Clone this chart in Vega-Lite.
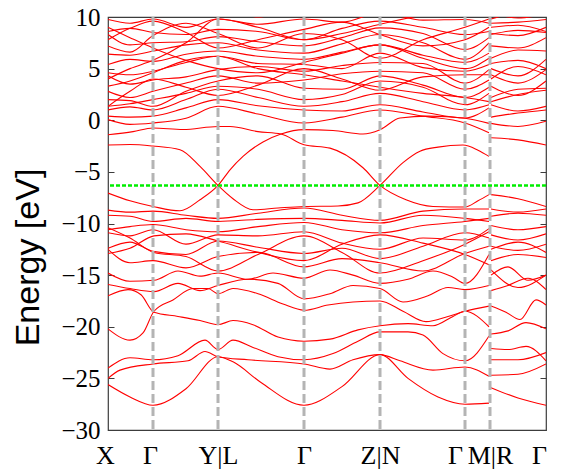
{
"$schema": "https://vega.github.io/schema/vega-lite/v6.json",
"width": 438, "height": 413,
"autosize": "none",
"padding": {"left": 108, "top": 17, "right": 19, "bottom": 40},
"background": "white",
"config": {"view": {"stroke": "#3c3c3c", "strokeWidth": 1.2}, "axis": {"grid": false, "domain": false}},
"datasets": {
"kpts": [{"k":45},{"k":110},{"k":196},{"k":272},{"k":357},{"k":382}],
"ef": [{"e":-6.31}],
"bands": [
{"b":"b1","k":0,"e":-25.6},{"b":"b1","k":22,"e":-26.8},{"b":"b1","k":45,"e":-27.6},{"b":"b1","k":78,"e":-26.0},{"b":"b1","k":110,"e":-22.9},{"b":"b1","k":125,"e":-23.4},{"b":"b1","k":153,"e":-25.4},{"b":"b1","k":196,"e":-27.6},{"b":"b1","k":234,"e":-25.8},{"b":"b1","k":272,"e":-22.7},{"b":"b1","k":300,"e":-25.0},{"b":"b1","k":330,"e":-26.8},{"b":"b1","k":357,"e":-27.5},{"b":"b1","k":381,"e":-27.4},
{"b":"b1t","k":383,"e":-25.9},{"b":"b1t","k":410,"e":-26.9},{"b":"b1t","k":438,"e":-27.6},
{"b":"b2","k":0,"e":-25.0},{"b":"b2","k":12,"e":-24.2},{"b":"b2","k":45,"e":-23.6},{"b":"b2","k":80,"e":-23.3},{"b":"b2","k":97,"e":-22.4},{"b":"b2","k":110,"e":-22.9},{"b":"b2","k":140,"e":-23.2},{"b":"b2","k":196,"e":-23.6},{"b":"b2","k":222,"e":-24.1},{"b":"b2","k":245,"e":-23.2},{"b":"b2","k":272,"e":-22.7},{"b":"b2","k":292,"e":-23.3},{"b":"b2","k":325,"e":-24.2},{"b":"b2","k":357,"e":-23.9},{"b":"b2","k":381,"e":-24.8},
{"b":"b2t","k":383,"e":-24.7},{"b":"b2t","k":410,"e":-24.6},{"b":"b2t","k":438,"e":-23.6},
{"b":"b3","k":0,"e":-24.0},{"b":"b3","k":22,"e":-23.0},{"b":"b3","k":45,"e":-23.2},{"b":"b3","k":70,"e":-22.8},{"b":"b3","k":97,"e":-21.3},{"b":"b3","k":110,"e":-22.2},{"b":"b3","k":125,"e":-21.3},{"b":"b3","k":145,"e":-22.0},{"b":"b3","k":170,"e":-22.9},{"b":"b3","k":196,"e":-23.2},{"b":"b3","k":225,"e":-22.6},{"b":"b3","k":250,"e":-21.4},{"b":"b3","k":272,"e":-20.5},{"b":"b3","k":300,"e":-20.5},{"b":"b3","k":315,"e":-20.8},{"b":"b3","k":335,"e":-22.6},{"b":"b3","k":357,"e":-23.3},{"b":"b3","k":381,"e":-20.9},
{"b":"b3t","k":383,"e":-22.1},{"b":"b3t","k":400,"e":-22.2},{"b":"b3t","k":418,"e":-21.9},{"b":"b3t","k":438,"e":-23.3},
{"b":"b3u","k":383,"e":-23.2},{"b":"b3u","k":410,"e":-23.2},{"b":"b3u","k":438,"e":-22.5},
{"b":"b4","k":0,"e":-20.2},{"b":"b4","k":22,"e":-21.3},{"b":"b4","k":35,"e":-20.6},{"b":"b4","k":46,"e":-18.5},{"b":"b4","k":65,"e":-17.4},{"b":"b4","k":85,"e":-16.3},{"b":"b4","k":100,"e":-16.3},{"b":"b4","k":110,"e":-16.8},{"b":"b4","k":125,"e":-16.3},{"b":"b4","k":150,"e":-16.8},{"b":"b4","k":175,"e":-17.8},{"b":"b4","k":196,"e":-18.4},{"b":"b4","k":220,"e":-17.9},{"b":"b4","k":245,"e":-17.6},{"b":"b4","k":272,"e":-17.5},{"b":"b4","k":295,"e":-18.5},{"b":"b4","k":318,"e":-19.5},{"b":"b4","k":340,"e":-19.0},{"b":"b4","k":357,"e":-18.5},{"b":"b4","k":381,"e":-18.0},
{"b":"b4t","k":383,"e":-18.0},{"b":"b4t","k":398,"e":-18.6},{"b":"b4t","k":412,"e":-19.3},{"b":"b4t","k":428,"e":-17.4},{"b":"b4t","k":438,"e":-17.9},
{"b":"b5","k":0,"e":-17.0},{"b":"b5","k":20,"e":-16.4},{"b":"b5","k":33,"e":-16.9},{"b":"b5","k":46,"e":-18.6},{"b":"b5","k":70,"e":-19.0},{"b":"b5","k":92,"e":-19.4},{"b":"b5","k":110,"e":-19.8},{"b":"b5","k":125,"e":-19.4},{"b":"b5","k":145,"e":-19.8},{"b":"b5","k":170,"e":-21.0},{"b":"b5","k":196,"e":-21.4},{"b":"b5","k":222,"e":-21.2},{"b":"b5","k":250,"e":-20.3},{"b":"b5","k":272,"e":-19.9},{"b":"b5","k":300,"e":-19.7},{"b":"b5","k":325,"e":-19.9},{"b":"b5","k":345,"e":-19.0},{"b":"b5","k":357,"e":-18.5},{"b":"b5","k":381,"e":-20.0},
{"b":"b5t","k":383,"e":-20.7},{"b":"b5t","k":400,"e":-20.4},{"b":"b5t","k":418,"e":-19.6},{"b":"b5t","k":438,"e":-20.2},
{"b":"b6","k":0,"e":-15.9},{"b":"b6","k":22,"e":-16.3},{"b":"b6","k":46,"e":-16.6},{"b":"b6","k":70,"e":-15.8},{"b":"b6","k":92,"e":-16.5},{"b":"b6","k":110,"e":-16.0},{"b":"b6","k":140,"e":-15.4},{"b":"b6","k":170,"e":-15.8},{"b":"b6","k":196,"e":-17.3},{"b":"b6","k":222,"e":-16.8},{"b":"b6","k":245,"e":-16.0},{"b":"b6","k":272,"e":-16.3},{"b":"b6","k":295,"e":-17.6},{"b":"b6","k":320,"e":-17.0},{"b":"b6","k":340,"e":-16.2},{"b":"b6","k":357,"e":-16.4},{"b":"b6","k":381,"e":-16.0},
{"b":"b6t","k":383,"e":-16.5},{"b":"b6t","k":400,"e":-16.0},{"b":"b6t","k":420,"e":-15.3},{"b":"b6t","k":438,"e":-16.4},
{"b":"b7","k":0,"e":-14.8},{"b":"b7","k":22,"e":-15.6},{"b":"b7","k":46,"e":-15.5},{"b":"b7","k":70,"e":-14.6},{"b":"b7","k":92,"e":-15.1},{"b":"b7","k":110,"e":-14.8},{"b":"b7","k":140,"e":-15.4},{"b":"b7","k":165,"e":-14.8},{"b":"b7","k":196,"e":-15.3},{"b":"b7","k":222,"e":-14.5},{"b":"b7","k":245,"e":-15.0},{"b":"b7","k":272,"e":-15.8},{"b":"b7","k":300,"e":-15.4},{"b":"b7","k":325,"e":-14.6},{"b":"b7","k":345,"e":-15.2},{"b":"b7","k":357,"e":-15.8},{"b":"b7","k":381,"e":-13.0},
{"b":"b7t","k":383,"e":-15.0},{"b":"b7t","k":400,"e":-14.2},{"b":"b7t","k":420,"e":-15.5},{"b":"b7t","k":438,"e":-15.0},
{"b":"b8","k":0,"e":-12.5},{"b":"b8","k":22,"e":-13.8},{"b":"b8","k":45,"e":-13.6},{"b":"b8","k":78,"e":-14.3},{"b":"b8","k":110,"e":-13.2},{"b":"b8","k":150,"e":-12.8},{"b":"b8","k":196,"e":-14.2},{"b":"b8","k":234,"e":-13.4},{"b":"b8","k":272,"e":-13.8},{"b":"b8","k":315,"e":-14.6},{"b":"b8","k":357,"e":-12.9},{"b":"b8","k":381,"e":-12.2},
{"b":"b8t","k":383,"e":-12.2},{"b":"b8t","k":410,"e":-12.6},{"b":"b8t","k":438,"e":-12.0},
{"b":"b9","k":0,"e":-12.4},{"b":"b9","k":22,"e":-11.8},{"b":"b9","k":45,"e":-12.7},{"b":"b9","k":78,"e":-13.0},{"b":"b9","k":110,"e":-11.7},{"b":"b9","k":150,"e":-12.3},{"b":"b9","k":196,"e":-12.9},{"b":"b9","k":234,"e":-12.4},{"b":"b9","k":272,"e":-13.4},{"b":"b9","k":315,"e":-12.2},{"b":"b9","k":357,"e":-10.9},{"b":"b9","k":381,"e":-11.4},
{"b":"b9t","k":383,"e":-13.6},{"b":"b9t","k":410,"e":-13.0},{"b":"b9t","k":438,"e":-13.3},
{"b":"b10","k":0,"e":-10.9},{"b":"b10","k":22,"e":-11.2},{"b":"b10","k":45,"e":-10.6},{"b":"b10","k":78,"e":-12.0},{"b":"b10","k":110,"e":-11.1},{"b":"b10","k":150,"e":-11.2},{"b":"b10","k":196,"e":-10.8},{"b":"b10","k":234,"e":-11.9},{"b":"b10","k":272,"e":-12.5},{"b":"b10","k":315,"e":-11.4},{"b":"b10","k":357,"e":-11.6},{"b":"b10","k":381,"e":-10.5},
{"b":"b10t","k":383,"e":-11.1},{"b":"b10t","k":410,"e":-11.6},{"b":"b10t","k":438,"e":-11.0},
{"b":"b11","k":0,"e":-10.6},{"b":"b11","k":22,"e":-10.3},{"b":"b11","k":45,"e":-10.1},{"b":"b11","k":78,"e":-10.6},{"b":"b11","k":110,"e":-10.8},{"b":"b11","k":150,"e":-10.3},{"b":"b11","k":196,"e":-9.9},{"b":"b11","k":234,"e":-10.6},{"b":"b11","k":272,"e":-10.9},{"b":"b11","k":315,"e":-10.2},{"b":"b11","k":357,"e":-9.8},{"b":"b11","k":381,"e":-9.5},
{"b":"b11t","k":383,"e":-10.2},{"b":"b11t","k":410,"e":-10.6},{"b":"b11t","k":438,"e":-10.3},
{"b":"b12","k":0,"e":-9.2},{"b":"b12","k":22,"e":-9.3},{"b":"b12","k":45,"e":-9.8},{"b":"b12","k":78,"e":-9.5},{"b":"b12","k":110,"e":-9.8},{"b":"b12","k":150,"e":-9.6},{"b":"b12","k":196,"e":-9.5},{"b":"b12","k":234,"e":-9.7},{"b":"b12","k":272,"e":-9.95},{"b":"b12","k":315,"e":-9.2},{"b":"b12","k":357,"e":-9.5},{"b":"b12","k":381,"e":-9.8},
{"b":"b12t","k":383,"e":-9.3},{"b":"b12t","k":410,"e":-9.0},{"b":"b12t","k":438,"e":-9.2},
{"b":"b13","k":0,"e":-8.7},{"b":"b13","k":22,"e":-8.9},{"b":"b13","k":45,"e":-8.8},{"b":"b13","k":78,"e":-9.2},{"b":"b13","k":110,"e":-9.5},{"b":"b13","k":150,"e":-9.0},{"b":"b13","k":196,"e":-8.5},{"b":"b13","k":234,"e":-9.2},{"b":"b13","k":272,"e":-9.7},{"b":"b13","k":315,"e":-8.8},{"b":"b13","k":357,"e":-8.6},{"b":"b13","k":381,"e":-8.6},
{"b":"b13t","k":383,"e":-8.6},{"b":"b13t","k":410,"e":-8.9},{"b":"b13t","k":438,"e":-8.6},
{"b":"v1","k":0,"e":-10.4},{"b":"v1","k":22,"e":-11.4},{"b":"v1","k":46,"e":-12.8},{"b":"v1","k":78,"e":-13.2},{"b":"v1","k":110,"e":-14.6},{"b":"v1","k":150,"e":-13.0},{"b":"v1","k":196,"e":-11.2},{"b":"v1","k":234,"e":-12.8},{"b":"v1","k":272,"e":-14.8},{"b":"v1","k":315,"e":-13.6},{"b":"v1","k":357,"e":-12.0},{"b":"v1","k":381,"e":-10.8},
{"b":"v1t","k":383,"e":-12.5},{"b":"v1t","k":410,"e":-11.8},{"b":"v1t","k":438,"e":-12.8},
{"b":"v2","k":0,"e":-12.9},{"b":"v2","k":22,"e":-12.4},{"b":"v2","k":46,"e":-11.2},{"b":"v2","k":78,"e":-11.0},{"b":"v2","k":110,"e":-11.7},{"b":"v2","k":150,"e":-12.8},{"b":"v2","k":196,"e":-13.6},{"b":"v2","k":234,"e":-12.0},{"b":"v2","k":272,"e":-11.1},{"b":"v2","k":315,"e":-11.9},{"b":"v2","k":357,"e":-13.0},{"b":"v2","k":381,"e":-14.0},
{"b":"v2t","k":383,"e":-14.5},{"b":"v2t","k":410,"e":-16.2},{"b":"v2t","k":438,"e":-15.0},
{"b":"lA","k":0,"e":-2.4},{"b":"lA","k":22,"e":-2.35},{"b":"lA","k":45,"e":-2.5},{"b":"lA","k":72,"e":-2.85},{"b":"lA","k":92,"e":-4.47},{"b":"lA","k":110,"e":-6.31},{"b":"lA","k":125,"e":-7.6},{"b":"lA","k":145,"e":-8.67},{"b":"lA","k":170,"e":-8.5},{"b":"lA","k":196,"e":-8.35},{"b":"lA","k":230,"e":-8.3},{"b":"lA","k":250,"e":-8.0},{"b":"lA","k":272,"e":-6.31},{"b":"lA","k":295,"e":-4.1},{"b":"lA","k":312,"e":-3.0},{"b":"lA","k":330,"e":-2.6},{"b":"lA","k":355,"e":-2.4},{"b":"lA","k":370,"e":-2.9},{"b":"lA","k":381,"e":-3.5},
{"b":"lAt","k":383,"e":-1.7},{"b":"lAt","k":410,"e":-1.9},{"b":"lAt","k":438,"e":-2.4},
{"b":"lB","k":0,"e":-7.05},{"b":"lB","k":22,"e":-7.8},{"b":"lB","k":45,"e":-8.35},{"b":"lB","k":72,"e":-8.77},{"b":"lB","k":92,"e":-7.7},{"b":"lB","k":110,"e":-6.31},{"b":"lB","k":122,"e":-4.8},{"b":"lB","k":135,"e":-3.5},{"b":"lB","k":155,"e":-2.1},{"b":"lB","k":173,"e":-1.33},{"b":"lB","k":196,"e":-0.91},{"b":"lB","k":225,"e":-1.0},{"b":"lB","k":255,"e":-1.33},{"b":"lB","k":272,"e":-0.91},{"b":"lB","k":292,"e":0.22},{"b":"lB","k":320,"e":0.4},{"b":"lB","k":357,"e":0.2},{"b":"lB","k":381,"e":-0.3},
{"b":"lC","k":0,"e":-1.4},{"b":"lC","k":25,"e":-1.1},{"b":"lC","k":45,"e":-0.75},{"b":"lC","k":75,"e":-0.9},{"b":"lC","k":110,"e":-0.6},{"b":"lC","k":122,"e":-0.6},{"b":"lC","k":150,"e":-1.1},{"b":"lC","k":173,"e":-1.33},{"b":"lC","k":196,"e":-2.37},{"b":"lC","k":222,"e":-2.7},{"b":"lC","k":255,"e":-4.6},{"b":"lC","k":272,"e":-6.31},{"b":"lC","k":298,"e":-7.7},{"b":"lC","k":325,"e":-8.35},{"b":"lC","k":357,"e":-8.4},{"b":"lC","k":370,"e":-7.8},{"b":"lC","k":381,"e":-7.2},
{"b":"lCt","k":383,"e":-7.2},{"b":"lCt","k":410,"e":-7.6},{"b":"lCt","k":438,"e":-8.35},
{"b":"c1","k":0,"e":0.06},{"b":"c1","k":22,"e":-0.4},{"b":"c1","k":45,"e":-0.26},{"b":"c1","k":78,"e":0.2},{"b":"c1","k":110,"e":1.35},{"b":"c1","k":150,"e":0.6},{"b":"c1","k":196,"e":-0.26},{"b":"c1","k":234,"e":0.3},{"b":"c1","k":272,"e":1.0},{"b":"c1","k":315,"e":0.4},{"b":"c1","k":357,"e":-0.26},{"b":"c1","k":381,"e":-1.2},
{"b":"c1t","k":383,"e":-0.3},{"b":"c1t","k":410,"e":-0.6},{"b":"c1t","k":438,"e":-0.1},
{"b":"c2","k":0,"e":0.4},{"b":"c2","k":22,"e":0.3},{"b":"c2","k":45,"e":0.4},{"b":"c2","k":78,"e":1.2},{"b":"c2","k":110,"e":2.0},{"b":"c2","k":150,"e":1.4},{"b":"c2","k":196,"e":1.0},{"b":"c2","k":234,"e":0.9},{"b":"c2","k":272,"e":1.5},{"b":"c2","k":315,"e":0.8},{"b":"c2","k":357,"e":0.22},{"b":"c2","k":381,"e":1.2},
{"b":"c2t","k":383,"e":0.3},{"b":"c2t","k":410,"e":0.7},{"b":"c2t","k":438,"e":1.0},
{"b":"c3","k":0,"e":1.0},{"b":"c3","k":22,"e":1.3},{"b":"c3","k":45,"e":1.0},{"b":"c3","k":78,"e":2.0},{"b":"c3","k":110,"e":3.0},{"b":"c3","k":150,"e":2.2},{"b":"c3","k":196,"e":1.35},{"b":"c3","k":234,"e":1.8},{"b":"c3","k":272,"e":2.6},{"b":"c3","k":315,"e":1.8},{"b":"c3","k":357,"e":1.0},{"b":"c3","k":381,"e":1.5},
{"b":"c3t","k":383,"e":1.5},{"b":"c3t","k":410,"e":0.9},{"b":"c3t","k":438,"e":1.35},
{"b":"c4","k":0,"e":1.35},{"b":"c4","k":22,"e":1.6},{"b":"c4","k":45,"e":2.0},{"b":"c4","k":78,"e":2.6},{"b":"c4","k":110,"e":3.3},{"b":"c4","k":150,"e":3.0},{"b":"c4","k":196,"e":2.0},{"b":"c4","k":234,"e":2.5},{"b":"c4","k":272,"e":3.8},{"b":"c4","k":315,"e":3.2},{"b":"c4","k":357,"e":1.5},{"b":"c4","k":381,"e":2.6},
{"b":"c4t","k":383,"e":2.2},{"b":"c4t","k":410,"e":3.0},{"b":"c4t","k":438,"e":3.1},
{"b":"c5","k":0,"e":2.0},{"b":"c5","k":22,"e":1.9},{"b":"c5","k":45,"e":1.35},{"b":"c5","k":78,"e":2.8},{"b":"c5","k":110,"e":3.8},{"b":"c5","k":150,"e":4.3},{"b":"c5","k":196,"e":3.1},{"b":"c5","k":234,"e":3.0},{"b":"c5","k":272,"e":4.3},{"b":"c5","k":315,"e":3.4},{"b":"c5","k":357,"e":2.2},{"b":"c5","k":381,"e":3.2},
{"b":"c5t","k":383,"e":3.3},{"b":"c5t","k":410,"e":2.4},{"b":"c5t","k":438,"e":3.8},
{"b":"c6","k":0,"e":2.8},{"b":"c6","k":22,"e":2.2},{"b":"c6","k":45,"e":2.8},{"b":"c6","k":78,"e":3.6},{"b":"c6","k":110,"e":4.3},{"b":"c6","k":150,"e":3.6},{"b":"c6","k":196,"e":3.9},{"b":"c6","k":234,"e":4.5},{"b":"c6","k":272,"e":4.75},{"b":"c6","k":315,"e":4.6},{"b":"c6","k":357,"e":3.0},{"b":"c6","k":381,"e":3.9},
{"b":"c6t","k":383,"e":4.4},{"b":"c6t","k":410,"e":3.6},{"b":"c6t","k":438,"e":4.9},
{"b":"c7","k":0,"e":4.3},{"b":"c7","k":22,"e":3.5},{"b":"c7","k":45,"e":3.9},{"b":"c7","k":78,"e":4.2},{"b":"c7","k":110,"e":4.9},{"b":"c7","k":150,"e":5.2},{"b":"c7","k":196,"e":4.75},{"b":"c7","k":234,"e":5.3},{"b":"c7","k":272,"e":5.6},{"b":"c7","k":315,"e":5.5},{"b":"c7","k":357,"e":3.6},{"b":"c7","k":381,"e":4.9},
{"b":"c7t","k":383,"e":5.0},{"b":"c7t","k":410,"e":4.3},{"b":"c7t","k":438,"e":5.9},
{"b":"c8","k":0,"e":4.6},{"b":"c8","k":22,"e":4.4},{"b":"c8","k":45,"e":4.75},{"b":"c8","k":78,"e":5.6},{"b":"c8","k":110,"e":6.2},{"b":"c8","k":150,"e":5.5},{"b":"c8","k":196,"e":5.4},{"b":"c8","k":234,"e":5.0},{"b":"c8","k":272,"e":6.5},{"b":"c8","k":315,"e":5.1},{"b":"c8","k":357,"e":4.75},{"b":"c8","k":381,"e":5.4},
{"b":"c8t","k":383,"e":6.0},{"b":"c8t","k":410,"e":6.8},{"b":"c8t","k":438,"e":6.7},
{"b":"c9","k":0,"e":5.4},{"b":"c9","k":22,"e":5.9},{"b":"c9","k":45,"e":5.7},{"b":"c9","k":78,"e":6.4},{"b":"c9","k":110,"e":6.7},{"b":"c9","k":150,"e":6.2},{"b":"c9","k":196,"e":5.9},{"b":"c9","k":234,"e":6.6},{"b":"c9","k":272,"e":7.3},{"b":"c9","k":315,"e":6.3},{"b":"c9","k":357,"e":5.6},{"b":"c9","k":381,"e":6.5},
{"b":"c9t","k":383,"e":7.2},{"b":"c9t","k":410,"e":7.0},{"b":"c9t","k":438,"e":8.0},
{"b":"c10","k":0,"e":6.4},{"b":"c10","k":22,"e":6.3},{"b":"c10","k":45,"e":6.7},{"b":"c10","k":78,"e":7.3},{"b":"c10","k":110,"e":7.5},{"b":"c10","k":150,"e":6.8},{"b":"c10","k":196,"e":6.5},{"b":"c10","k":234,"e":7.4},{"b":"c10","k":272,"e":8.3},{"b":"c10","k":315,"e":7.5},{"b":"c10","k":357,"e":5.9},{"b":"c10","k":381,"e":7.5},
{"b":"c10t","k":383,"e":8.4},{"b":"c10t","k":410,"e":8.2},{"b":"c10t","k":438,"e":9.0},
{"b":"c11","k":0,"e":8.3},{"b":"c11","k":22,"e":7.3},{"b":"c11","k":45,"e":7.5},{"b":"c11","k":78,"e":7.6},{"b":"c11","k":110,"e":8.1},{"b":"c11","k":150,"e":7.6},{"b":"c11","k":196,"e":7.2},{"b":"c11","k":234,"e":8.0},{"b":"c11","k":272,"e":8.95},{"b":"c11","k":315,"e":8.4},{"b":"c11","k":357,"e":6.85},{"b":"c11","k":381,"e":8.0},
{"b":"c11t","k":383,"e":9.4},{"b":"c11t","k":410,"e":9.5},{"b":"c11t","k":438,"e":9.76},
{"b":"c12","k":0,"e":8.6},{"b":"c12","k":22,"e":8.9},{"b":"c12","k":45,"e":8.5},{"b":"c12","k":78,"e":8.3},{"b":"c12","k":110,"e":8.8},{"b":"c12","k":150,"e":8.6},{"b":"c12","k":196,"e":7.8},{"b":"c12","k":234,"e":8.9},{"b":"c12","k":272,"e":9.6},{"b":"c12","k":315,"e":9.0},{"b":"c12","k":357,"e":8.3},{"b":"c12","k":381,"e":8.6},
{"b":"c12t","k":383,"e":10.5},{"b":"c12t","k":410,"e":10.6},{"b":"c12t","k":438,"e":10.8},
{"b":"c13","k":0,"e":9.76},{"b":"c13","k":22,"e":9.4},{"b":"c13","k":45,"e":9.8},{"b":"c13","k":78,"e":9.0},{"b":"c13","k":110,"e":9.8},{"b":"c13","k":150,"e":9.3},{"b":"c13","k":196,"e":9.8},{"b":"c13","k":234,"e":9.5},{"b":"c13","k":272,"e":10.4},{"b":"c13","k":315,"e":9.7},{"b":"c13","k":357,"e":9.76},{"b":"c13","k":381,"e":9.4},
{"b":"c13t","k":383,"e":10.4},{"b":"c13t","k":410,"e":9.9},{"b":"c13t","k":438,"e":10.3},
{"b":"c14","k":0,"e":10.4},{"b":"c14","k":22,"e":10.6},{"b":"c14","k":45,"e":10.8},{"b":"c14","k":78,"e":10.2},{"b":"c14","k":110,"e":11.0},{"b":"c14","k":150,"e":10.0},{"b":"c14","k":196,"e":10.9},{"b":"c14","k":234,"e":10.3},{"b":"c14","k":272,"e":11.2},{"b":"c14","k":315,"e":10.2},{"b":"c14","k":357,"e":11.0},{"b":"c14","k":381,"e":12.0},
{"b":"x1","k":0,"e":4.0},{"b":"x1","k":22,"e":5.0},{"b":"x1","k":45,"e":5.8},{"b":"x1","k":78,"e":7.5},{"b":"x1","k":110,"e":9.8},{"b":"x1","k":150,"e":9.0},{"b":"x1","k":196,"e":7.8},{"b":"x1","k":234,"e":8.4},{"b":"x1","k":272,"e":9.3},{"b":"x1","k":315,"e":10.2},{"b":"x1","k":357,"e":11.0},{"b":"x1","k":381,"e":11.0},
{"b":"x1t","k":383,"e":9.8},{"b":"x1t","k":410,"e":10.5},{"b":"x1t","k":438,"e":11.0},
{"b":"x2","k":0,"e":9.0},{"b":"x2","k":22,"e":8.0},{"b":"x2","k":45,"e":7.0},{"b":"x2","k":78,"e":5.8},{"b":"x2","k":110,"e":5.0},{"b":"x2","k":150,"e":4.6},{"b":"x2","k":196,"e":5.6},{"b":"x2","k":234,"e":6.5},{"b":"x2","k":272,"e":7.3},{"b":"x2","k":315,"e":6.0},{"b":"x2","k":357,"e":5.0},{"b":"x2","k":381,"e":6.0},
{"b":"x2t","k":383,"e":5.5},{"b":"x2t","k":410,"e":5.8},{"b":"x2t","k":438,"e":5.0},
{"b":"x3","k":0,"e":3.3},{"b":"x3","k":22,"e":3.8},{"b":"x3","k":45,"e":4.6},{"b":"x3","k":78,"e":5.8},{"b":"x3","k":110,"e":6.2},{"b":"x3","k":150,"e":5.0},{"b":"x3","k":196,"e":4.4},{"b":"x3","k":234,"e":3.8},{"b":"x3","k":272,"e":3.2},{"b":"x3","k":315,"e":2.6},{"b":"x3","k":357,"e":2.2},{"b":"x3","k":381,"e":1.8},
{"b":"x3t","k":383,"e":1.8},{"b":"x3t","k":410,"e":2.5},{"b":"x3t","k":438,"e":2.9},
{"b":"x4","k":0,"e":7.8},{"b":"x4","k":22,"e":8.9},{"b":"x4","k":45,"e":9.6},{"b":"x4","k":78,"e":8.5},{"b":"x4","k":110,"e":7.0},{"b":"x4","k":150,"e":7.8},{"b":"x4","k":196,"e":8.8},{"b":"x4","k":234,"e":9.5},{"b":"x4","k":272,"e":8.3},{"b":"x4","k":315,"e":7.2},{"b":"x4","k":357,"e":7.8},{"b":"x4","k":381,"e":9.0},
{"b":"x4t","k":383,"e":8.3},{"b":"x4t","k":410,"e":8.7},{"b":"x4t","k":438,"e":8.5},
{"b":"x5","k":0,"e":1.35},{"b":"x5","k":22,"e":2.8},{"b":"x5","k":45,"e":4.0},{"b":"x5","k":78,"e":3.2},{"b":"x5","k":110,"e":2.4},{"b":"x5","k":150,"e":3.4},{"b":"x5","k":196,"e":5.0},{"b":"x5","k":234,"e":4.0},{"b":"x5","k":272,"e":2.9},{"b":"x5","k":315,"e":4.2},{"b":"x5","k":357,"e":4.4},{"b":"x5","k":381,"e":4.4},
{"b":"x5t","k":383,"e":4.0},{"b":"x5t","k":410,"e":5.2},{"b":"x5t","k":438,"e":4.4},
{"b":"x6","k":0,"e":7.2},{"b":"x6","k":22,"e":6.6},{"b":"x6","k":45,"e":8.2},{"b":"x6","k":78,"e":9.4},{"b":"x6","k":110,"e":8.4},{"b":"x6","k":150,"e":7.0},{"b":"x6","k":196,"e":8.4},{"b":"x6","k":234,"e":7.8},{"b":"x6","k":272,"e":6.0},{"b":"x6","k":315,"e":7.8},{"b":"x6","k":357,"e":9.0},{"b":"x6","k":381,"e":9.8},
{"b":"x6t","k":383,"e":9.0},{"b":"x6t","k":410,"e":9.2},{"b":"x6t","k":438,"e":8.6}
]
},
"layer": [
{"data": {"name": "bands"},
 "mark": {"type": "line", "color": "#ff0000", "strokeWidth": 1.1, "interpolate": "monotone", "clip": true},
 "encoding": {
  "x": {"field": "k", "type": "quantitative", "scale": {"domain": [0, 438], "nice": false, "zero": false},
        "axis": {"values": [0,45,110,196,272,357,382,438], "title": null, "ticks": false,
                 "labelExpr": "datum.value == 0 ? 'X' : datum.value == 110 ? 'Y|L' : datum.value == 272 ? 'Z|N' : datum.value == 382 ? 'M|R' : 'Γ'",
                 "labelFont": "Liberation Serif", "labelFontSize": 26, "labelColor": "#000000",
                 "labelPadding": 12, "labelOverlap": false, "labelFlush": false, "labelBaseline": "top",
                 "labelOffset": {"condition": [{"test": "datum.value == 357", "value": -10}, {"test": "datum.value == 438", "value": -7}, {"test": "datum.value <= 45", "value": -3}], "value": 0}}},
  "y": {"field": "e", "type": "quantitative", "scale": {"domain": [-30, 10], "nice": false, "zero": false},
        "axis": {"values": [-30,-25,-20,-15,-10,-5,0,5,10], "title": "Energy [eV]", "tickSize": -6, "tickColor": "#3c3c3c",
                 "labelFont": "Liberation Serif", "labelFontSize": 25, "labelColor": "#000000", "labelPadding": 14,
                 "titleFont": "Liberation Sans", "titleFontSize": 34, "titleFontWeight": "normal", "titleColor": "#000000",
                 "titleAngle": -90, "titleX": -70, "titleY": 240, "titleBaseline": "alphabetic", "titleAlign": "center"}},
  "detail": {"field": "b", "type": "nominal"}
 }},
{"data": {"name": "kpts"},
 "mark": {"type": "rule", "color": "#b4b4b4", "strokeWidth": 3, "strokeDash": [9, 4]},
 "encoding": {"x": {"field": "k", "type": "quantitative"}}},
{"data": {"name": "ef"},
 "mark": {"type": "rule", "color": "#00ee00", "strokeWidth": 2.5, "strokeDash": [4, 2]},
 "encoding": {"y": {"field": "e", "type": "quantitative",
   "axis": {"orient": "right", "values": [-30,-25,-20,-15,-10,-5,0,5,10], "labels": false, "title": null, "tickSize": -6, "tickColor": "#3c3c3c"}}}}
],
"resolve": {"axis": {"y": "independent"}}
}
